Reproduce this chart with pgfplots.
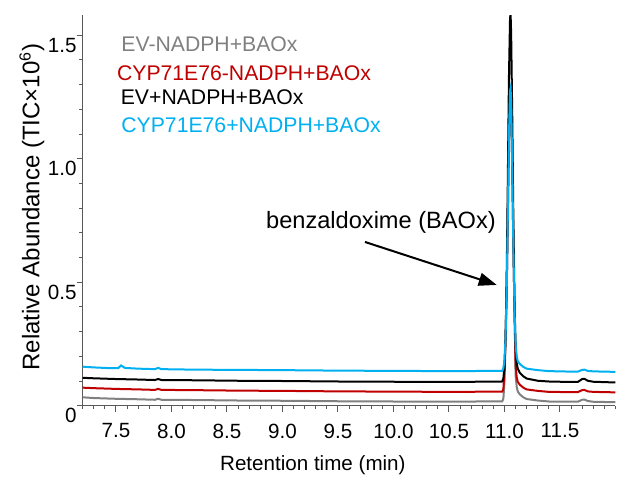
\documentclass[border=0pt]{standalone}
\usepackage{fontspec}
\setmainfont{Liberation Sans}
\usepackage{pgfplots}
\pgfplotsset{compat=1.18}
\usetikzlibrary{arrows.meta}
\definecolor{cgray}{RGB}{128,128,128}
\definecolor{cred}{RGB}{192,0,0}
\definecolor{cblue}{RGB}{0,176,240}
\begin{document}
\begin{tikzpicture}[font=\fontsize{10.3}{12}\selectfont]
\begin{axis}[
 scale only axis, width=266.4pt, height=195.35pt,
 xmin=7.2, xmax=12, ymin=0, ymax=1.582,
 axis lines*=left,
 axis line style={black!65, line width=0.6pt},
 tick style={black!65, line width=0.5pt},
 tick align=outside,
 major tick length=3pt, minor tick length=1.8pt,
 xtick={7.5,8,8.5,9,9.5,10,10.5,11,11.5},
 xticklabels={7.5,8.0,8.5,9.0,9.5,10.0,10.5,11.0,11.5},
 minor xtick={7.2,7.3,7.4,7.6,7.7,7.8,7.9,8.1,8.2,8.3,8.4,8.6,8.7,8.8,8.9,9.1,9.2,9.3,9.4,9.6,9.7,9.8,9.9,10.1,10.2,10.3,10.4,10.6,10.7,10.8,10.9,11.1,11.2,11.3,11.4,11.6,11.7,11.8,11.9,12.0},
 ytick={0,0.5,1,1.5}, yticklabels={0,0.5,1.0,1.5},
 minor ytick={0.1,0.2,0.3,0.4,0.6,0.7,0.8,0.9,1.1,1.2,1.3,1.4},
 xticklabel style={yshift=-2.5pt},
 yticklabel style={yshift=-5pt, xshift=3.5pt},
 xlabel={Retention time (min)},
 ylabel={Relative Abundance (TIC×10\textsuperscript{6})},
 xlabel style={at={(axis description cs:0.432,-0.1518)}, anchor=center},
 ylabel style={at={(axis description cs:-0.0952,0.5086)}, anchor=center, font=\fontsize{12}{14}\selectfont},
 clip=true,
]
% EV-NADPH+BAOx (gray)
\addplot[cgray, line width=1pt] table {
x y
7.2 0.034
7.3 0.031
7.5 0.028
7.7 0.026
7.85 0.024
7.88 0.028
7.91 0.024
8.2 0.023
8.6 0.021
9.0 0.020
9.5 0.018
10.0 0.017
10.5 0.016
10.98 0.018
10.99 0.029
11.00 0.100
11.01 0.280
11.02 0.473
11.03 0.769
11.04 1.086
11.05 1.200
11.055 1.210
11.06 1.200
11.07 0.965
11.08 0.644
11.09 0.391
11.10 0.125
11.11 0.076
11.12 0.057
11.14 0.045
11.17 0.034
11.2 0.027
11.3 0.021
11.4 0.017
11.6 0.016
11.66 0.016
11.7 0.024
11.72 0.025
11.75 0.019
11.8 0.016
12.0 0.014
};
% CYP71E76-NADPH+BAOx (red)
\addplot[cred, line width=1pt] table {
x y
7.2 0.073
7.3 0.071
7.5 0.068
7.7 0.066
7.85 0.064
7.88 0.068
7.91 0.064
8.2 0.063
8.6 0.061
9.0 0.060
9.5 0.058
10.0 0.057
10.5 0.056
10.98 0.057
10.99 0.068
11.00 0.140
11.01 0.280
11.02 0.473
11.03 0.769
11.04 1.086
11.05 1.240
11.055 1.250
11.06 1.224
11.07 0.965
11.08 0.644
11.09 0.391
11.10 0.164
11.11 0.115
11.12 0.096
11.14 0.084
11.17 0.073
11.2 0.066
11.3 0.060
11.4 0.056
11.6 0.055
11.66 0.055
11.7 0.063
11.72 0.064
11.75 0.058
11.8 0.056
12.0 0.054
};
% EV+NADPH+BAOx (black)
\addplot[black, line width=1pt] table {
x y
7.2 0.113
7.3 0.111
7.5 0.108
7.7 0.106
7.85 0.104
7.88 0.108
7.91 0.104
8.2 0.103
8.6 0.101
9.0 0.100
9.5 0.098
10.0 0.097
10.5 0.096
10.98 0.098
10.99 0.111
11.00 0.156
11.01 0.278
11.02 0.529
11.03 0.913
11.04 1.326
11.05 1.570
11.055 1.585
11.06 1.505
11.07 1.168
11.08 0.751
11.09 0.423
11.10 0.237
11.11 0.172
11.12 0.149
11.14 0.132
11.17 0.119
11.2 0.110
11.3 0.101
11.4 0.098
11.6 0.096
11.66 0.096
11.7 0.108
11.72 0.109
11.75 0.101
11.8 0.097
12.0 0.094
};
% CYP71E76+NADPH+BAOx (blue)
\addplot[cblue, line width=1pt] table {
x y
7.2 0.158
7.3 0.155
7.45 0.152
7.52 0.152
7.545 0.163
7.58 0.153
7.7 0.150
7.85 0.148
7.88 0.153
7.91 0.148
8.2 0.146
8.6 0.145
9.0 0.144
9.5 0.142
10.0 0.141
10.5 0.140
10.98 0.141
10.99 0.152
11.00 0.186
11.01 0.280
11.02 0.473
11.03 0.769
11.04 1.086
11.05 1.275
11.055 1.286
11.06 1.224
11.07 0.965
11.08 0.644
11.09 0.391
11.10 0.248
11.11 0.199
11.12 0.180
11.14 0.168
11.17 0.157
11.2 0.150
11.3 0.144
11.4 0.140
11.6 0.138
11.66 0.138
11.7 0.145
11.72 0.146
11.75 0.141
11.8 0.139
12.0 0.137
};
\node[anchor=west, inner sep=0, text=cgray, font=\fontsize{10.6}{12}\selectfont] at (axis cs:7.545,1.463) {EV-NADPH+BAOx};
\node[anchor=west, inner sep=0, text=cred, font=\fontsize{10.6}{12}\selectfont] at (axis cs:7.506,1.346) {CYP71E76-NADPH+BAOx};
\node[anchor=west, inner sep=0, text=black, font=\fontsize{10.6}{12}\selectfont] at (axis cs:7.54,1.251) {EV+NADPH+BAOx};
\node[anchor=west, inner sep=0, text=cblue, font=\fontsize{10.6}{12}\selectfont] at (axis cs:7.545,1.136) {CYP71E76+NADPH+BAOx};
\node[font=\fontsize{11.8}{14}\selectfont] at (axis cs:9.887,0.744) {benzaldoxime (BAOx)};
\draw[-{Triangle[length=9pt,width=6.5pt]}, line width=1pt] (axis cs:9.743,0.663) -- (axis cs:10.93,0.489);
\coordinate (o) at (rel axis cs:0,0);
\end{axis}
\pgfresetboundingbox
\path ([shift={(-41.35pt,-35.65pt)}]o) rectangle ([shift={(269.65pt,202.85pt)}]o);
\end{tikzpicture}
\end{document}
